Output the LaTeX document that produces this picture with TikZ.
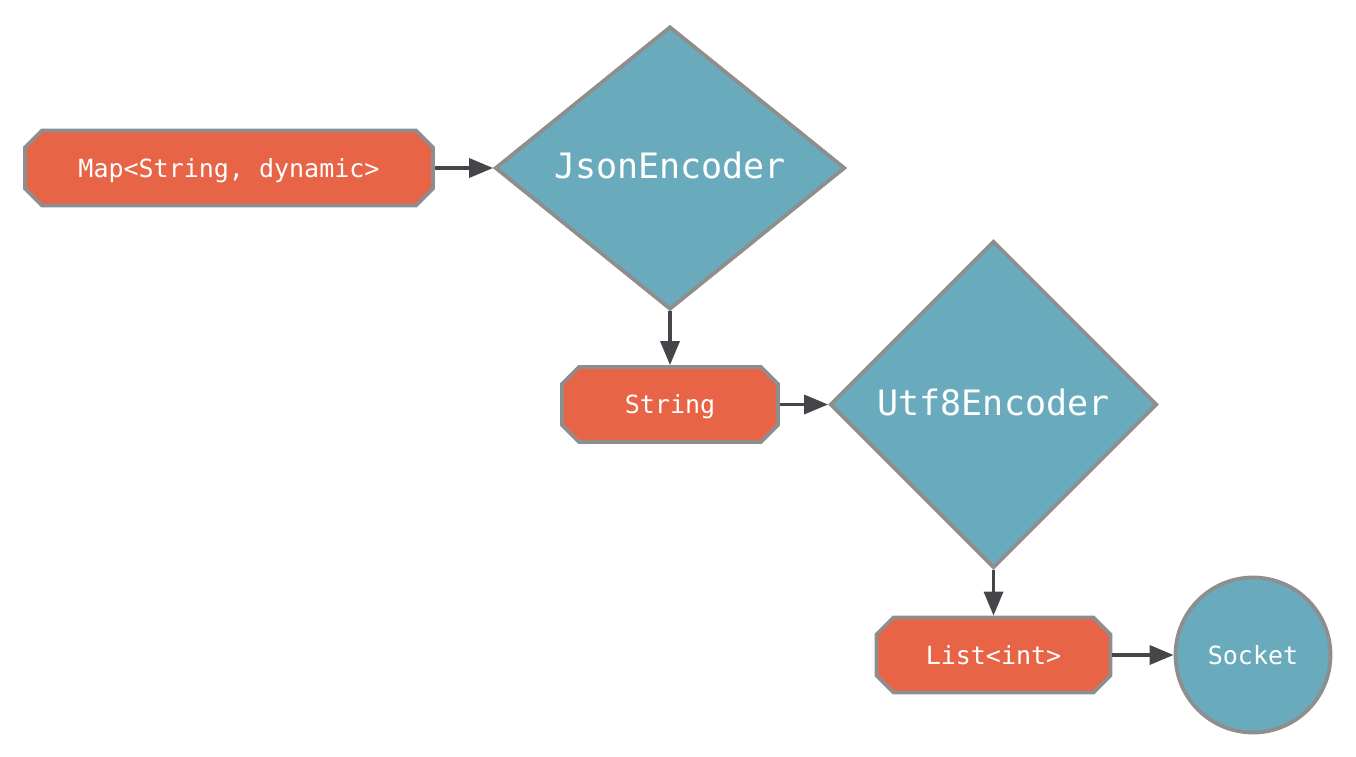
\documentclass[tikz,border=0pt]{standalone}
\usepackage{fontspec}
\setmonofont{DejaVu Sans Mono}
\usetikzlibrary{shapes.geometric,shapes.misc,arrows.meta}
\definecolor{boxorange}{HTML}{E86447}
\definecolor{tealfill}{HTML}{69ABBC}
\definecolor{edgegray}{HTML}{8E8E8E}
\definecolor{arrowdark}{HTML}{46464A}
\tikzset{
  x=1pt, y=-1pt,
  databox/.style={chamfered rectangle, chamfered rectangle xsep=8.5pt, chamfered rectangle ysep=8.5pt,
    draw=edgegray, line width=3.8pt, fill=boxorange, inner sep=0pt,
    minimum height=75pt, text=white, text height=18pt, text depth=0pt,
    font=\ttfamily\fontsize{25}{30}\selectfont},
  coder/.style={diamond, draw=edgegray, line width=3.8pt, fill=tealfill, inner sep=0pt,
    text=white, text height=26pt, text depth=5pt, font=\ttfamily\fontsize{35}{42}\selectfont},
  sink/.style={circle, draw=edgegray, line width=3.8pt, fill=tealfill, inner sep=0pt,
    minimum size=155pt, text=white, text height=18pt, text depth=0pt,
    font=\ttfamily\fontsize{25}{30}\selectfont},
  flow/.style={draw=arrowdark, line width=3.5pt, -{Triangle[length=24pt,width=19pt]}}
}
\begin{document}
\begin{tikzpicture}
\useasboundingbox (0,0) rectangle (1356,756);
\node[databox, minimum width=408pt] (map) at (229,168) {Map<String, dynamic>};
\node[coder, minimum width=350pt, minimum height=283pt] (json) at (670,168) {JsonEncoder};
\node[databox, minimum width=216pt] (str) at (670,404.5) {String};
\node[coder, minimum width=327pt, minimum height=327pt] (utf) at (993.5,404.5) {Utf8Encoder};
\node[databox, minimum width=234pt] (list) at (993.5,655) {List<int>};
\node[sink] (sock) at (1253,655) {Socket};
\draw[flow] (map.east) -- (json.west);
\draw[flow] (json.south) -- (str.north);
\draw[flow] (str.east) -- (utf.west);
\draw[flow] (utf.south) -- (list.north);
\draw[flow] (list.east) -- (sock.west);
\end{tikzpicture}
\end{document}
